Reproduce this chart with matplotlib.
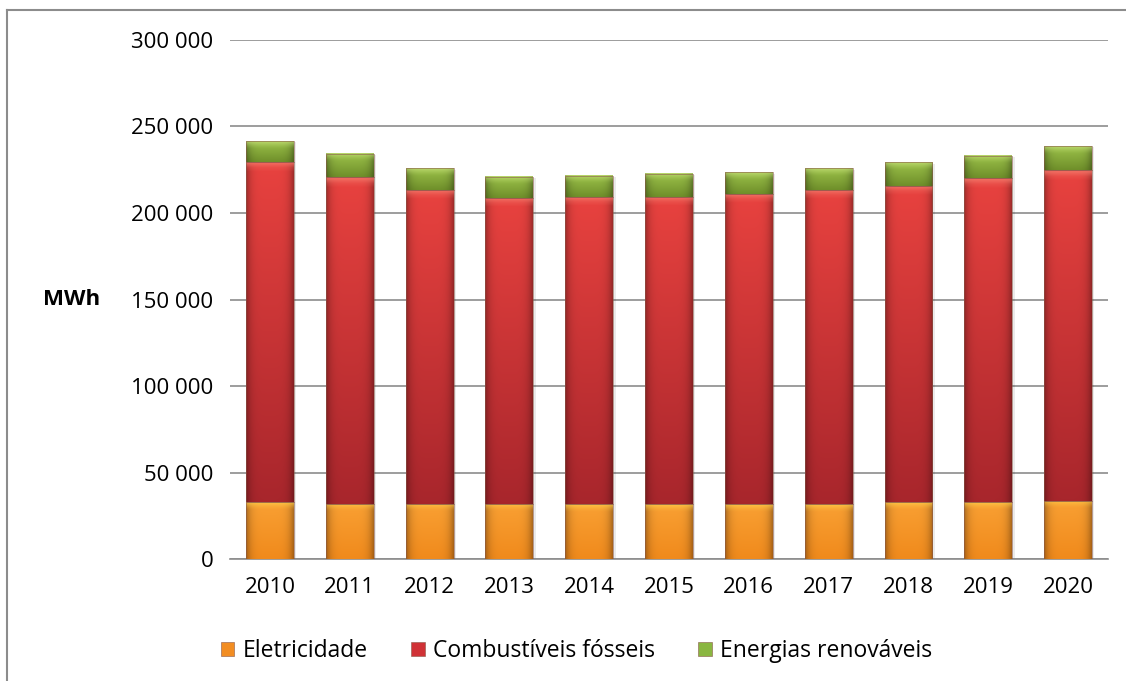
"""Energy consumption by source, 2010-2020 (stacked bars, MWh)."""
import numpy as np
import matplotlib
matplotlib.use('Agg')
import matplotlib.pyplot as plt
from matplotlib.patches import Patch
from matplotlib.lines import Line2D
from matplotlib.colors import to_rgb

plt.rcParams['font.family'] = ['Open Sans', 'DejaVu Sans']

# Data (MWh)
years = ['2010', '2011', '2012', '2013', '2014', '2015',
         '2016', '2017', '2018', '2019', '2020']
eletricidade = [32800, 31800, 31800, 31800, 31600, 31600,
                31600, 31600, 32800, 32800, 33700]
fosseis = [196700, 188800, 181500, 177000, 177500, 177500,
           179400, 181700, 183000, 187200, 191200]
renovaveis = [12100, 13500, 12500, 12200, 12500, 13400,
              12500, 12500, 13500, 12900, 13800]

series_names = ['Eletricidade', 'Combustíveis fósseis', 'Energias renováveis']
# (top colour, bottom colour, bevel highlight) per series
palette = [
    ('#f9a033', '#f08a1c', '#ffd24a'),
    ('#e8423f', '#a8262c', '#f47a6c'),
    ('#9cc24a', '#6f8f2a', '#c6e07a'),
]
legend_colors = ['#f28d22', '#d03236', '#8ab640']


def shade_bar(ax, x0, x1, y0, y1, top, bottom, hi, bevel):
    """Paint a bevelled gradient inside a bar segment."""
    rows, cols = 80, 40
    t = np.linspace(0, 1, rows)[:, None, None]          # 0 = top
    s = np.linspace(-1, 1, cols)[None, :, None]
    top, bottom, hi = map(lambda c: np.array(to_rgb(c)), (top, bottom, hi))
    img = top * (1 - t) + bottom * t
    img = np.broadcast_to(img, (rows, cols, 3)).copy()
    # darker side edges
    img *= (1 - 0.3 * np.abs(s) ** 5)
    # light band along the top edge
    h = y1 - y0
    frac = min(bevel / h, 0.5) if h > 0 else 0
    band = np.clip(1 - t / max(frac, 1e-6), 0, 1) ** 1.5
    img = img * (1 - 0.7 * band) + hi * 0.7 * band
    ax.imshow(np.clip(img, 0, 1), extent=(x0, x1, y0, y1), origin='upper',
              aspect='auto', interpolation='bilinear', zorder=3)


fig = plt.figure(figsize=(11.26, 6.81), dpi=100)
ax = fig.add_axes([0.2043, 0.1791, 0.7797, 0.7622])

x = np.arange(len(years))
width = 0.6
bottoms = np.zeros(len(years))
for vals, (top, bottom, hi) in zip([eletricidade, fosseis, renovaveis], palette):
    bars = ax.bar(x, vals, width, bottom=bottoms, color='none',
                  edgecolor='#8a5a4a', linewidth=0.4, zorder=4)
    for rect in bars:
        bx, by = rect.get_x(), rect.get_y()
        shade_bar(ax, bx, bx + rect.get_width(), by, by + rect.get_height(),
                  top, bottom, hi, bevel=4500)
        # soft drop shadow
        ax.add_patch(plt.Rectangle((bx + 0.03, by - 800), rect.get_width(),
                                   rect.get_height(), color='#000000',
                                   alpha=0.08, lw=0, zorder=2.5))
    bottoms += np.array(vals)

ax.set_xlim(-0.5, 10.5)
ax.set_ylim(0, 300000)
ax.set_yticks(np.arange(0, 300001, 50000))
ax.set_yticklabels([f'{v:,}'.replace(',', ' ') for v in range(0, 300001, 50000)])
ax.set_xticks(x)
ax.set_xticklabels(years)
ax.tick_params(axis='both', length=0, labelsize=16, colors='black')
ax.tick_params(axis='y', pad=12)
ax.tick_params(axis='x', pad=13)
ax.yaxis.grid(True, color='#8c8c8c', linewidth=1.2, zorder=0)
ax.set_axisbelow(True)
for side in ['top', 'right', 'left']:
    ax.spines[side].set_visible(False)
ax.spines['bottom'].set_color('#8c8c8c')
ax.spines['bottom'].set_linewidth(1.2)

fig.text(72 / 1126, 1 - 299 / 681, 'MWh', fontsize=16, fontweight='bold',
         ha='center', va='center')

handles = [Patch(facecolor=c, edgecolor='#8a5a4a', linewidth=0.4)
           for c in legend_colors]
fig.legend(handles, series_names, loc='center', ncol=3, frameon=False,
           bbox_to_anchor=(0.512, 1 - 651 / 681), fontsize=16.5,
           handlelength=0.6, handleheight=0.6, handletextpad=0.35,
           columnspacing=1.9)

# outer frame (left and top edges)
fig.add_artist(Line2D([7 / 1126, 7 / 1126], [0, 1 - 10 / 681],
                      transform=fig.transFigure, color='#8c8c8c', lw=1.5))
fig.add_artist(Line2D([7 / 1126, 1], [1 - 10 / 681, 1 - 10 / 681],
                      transform=fig.transFigure, color='#8c8c8c', lw=1.5))

fig.savefig('out.png', dpi=100)
